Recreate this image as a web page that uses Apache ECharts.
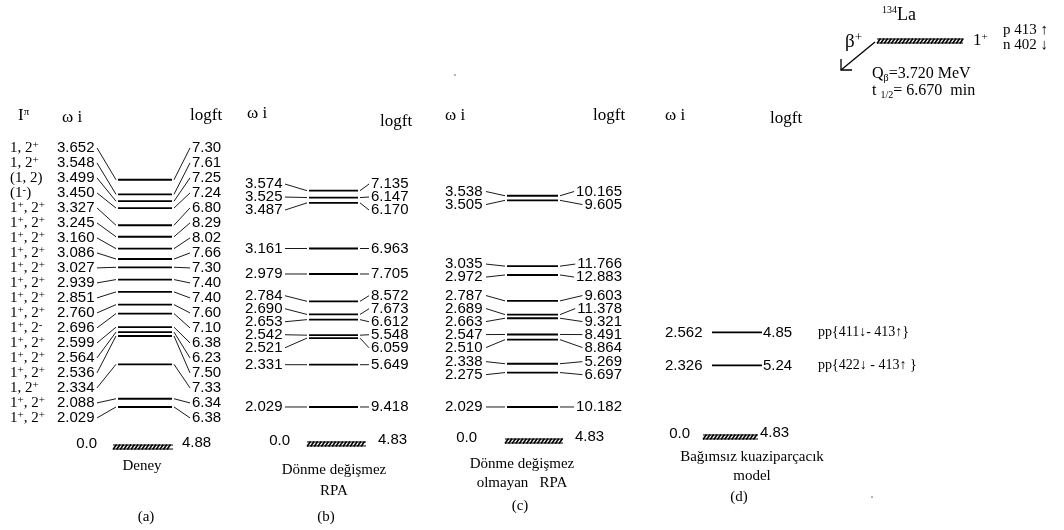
<!DOCTYPE html>
<html><head><meta charset="utf-8">
<script src="https://cdn.jsdelivr.net/npm/echarts@6/dist/echarts.min.js"></script>
<style>html,body{margin:0;padding:0;background:#fff}#c{width:1064px;height:530px}</style>
</head><body><div id="c"></div>
<script>
// ---------------- DATA ----------------
// (a) Deney (experiment)
const expEnergies = [3.652,3.548,3.499,3.450,3.327,3.245,3.160,3.086,3.027,2.939,2.851,2.760,2.696,2.599,2.564,2.536,2.334,2.088,2.029];
const expSpins = ['1, 2^+','1, 2^+','(1, 2)','(1^-)','1^+, 2^+','1^+, 2^+','1^+, 2^+','1^+, 2^+','1^+, 2^+','1^+, 2^+','1^+, 2^+','1^+, 2^+','1^+, 2^-','1^+, 2^+','1^+, 2^+','1^+, 2^+','1, 2^+','1^+, 2^+','1^+, 2^+'];
const expLogft = [7.30,7.61,7.25,7.24,6.80,8.29,8.02,7.66,7.30,7.40,7.40,7.60,7.10,6.38,6.23,7.50,7.33,6.34,6.38];
// (b) Dönme değişmez RPA
const rpaEnergies = [3.574,3.525,3.487,3.161,2.979,2.784,2.690,2.653,2.542,2.521,2.331,2.029];
const rpaLogft = [7.135,6.147,6.170,6.963,7.705,8.572,7.673,6.612,5.548,6.059,5.649,9.418];
// (c) Dönme değişmez olmayan RPA
const nrpaEnergies = [3.538,3.505,3.035,2.972,2.787,2.689,2.663,2.547,2.510,2.338,2.275,2.029];
const nrpaLogft = [10.165,9.605,11.766,12.883,9.603,11.378,9.321,8.491,8.864,5.269,6.697,10.182];
// (d) Bağımsız kuaziparçacık model
const qpEnergies = [2.562,2.326];
const qpLogft = [4.85,5.24];
const qpConfigs = ['pp{411\u2193- 413\u2191}','pp{422\u2193 - 413\u2191 }'];
// ground states
const groundEnergy = [0.0,0.0,0.0,0.0];
const groundLogft = [4.88,4.83,4.83,4.83];
const panelNames = [['Deney'],['Dönme değişmez','RPA'],['Dönme değişmez','olmayan   RPA'],['Bağımsız kuaziparçacık','model']];
const panelTags = ['(a)','(b)','(c)','(d)'];

// ---------------- LAYOUT ----------------
const W = 1064, H = 530;
const yMax = 4.9361, yMin = 1.1504;           // energy axis range (MeV)
const pxPerE = H / (yMax - yMin);
const NUM = '15px "Liberation Sans", Arial, sans-serif';
const SERIF = '"Liberation Serif", "Times New Roman", serif';
const measCtx = document.createElement('canvas').getContext('2d');
function textW(t, font) { measCtx.font = font; return measCtx.measureText(t).width; }

const panels = [
  {E: expEnergies, F: expLogft, dec: 2, spins: expSpins, level:[118,172], lLab:57, lLead:[97,116], rLead:[174,190], rLab:192, gap:15,
   g:{E:1.743, hatch:[113,173], zeroR:97, valX:182}},
  {E: rpaEnergies, F: rpaLogft, dec: 3, level:[309,358], lLab:245, lLead:[285,307], rLead:[360,369], rLab:371, gap:13,
   g:{E:1.765, hatch:[307,366], zeroR:290, valX:378}},
  {E: nrpaEnergies, F: nrpaLogft, dec: 3, level:[507,558], lLab:445, lLead:[486,505], rLead:[560,568], rLabRight:622, gap:13,
   g:{E:1.786, hatch:[505,563], zeroR:477, valX:575}},
  {E: qpEnergies, F: qpLogft, dec: 2, configs: qpConfigs, level:[712,762], lLab:665, rLab:763, cfgX:818, gap:13,
   g:{E:1.815, hatch:[703,758], zeroR:690, valX:760}}
];

// spread labels (ordered) with minimum pixel gap, least squares (PAVA)
function spread(energies, gapPx) {
  const ys = energies.map(e => (yMax - e) * pxPerE);
  const z = ys.map((y, i) => y - i * gapPx);
  const blocks = [];
  z.forEach(v => {
    blocks.push({s: v, n: 1});
    while (blocks.length > 1) {
      const a = blocks[blocks.length - 2], b = blocks[blocks.length - 1];
      if (a.s / a.n > b.s / b.n) { blocks.pop(); a.s += b.s; a.n += b.n; } else break;
    }
  });
  const fit = [];
  blocks.forEach(b => { for (let k = 0; k < b.n; k++) fit.push(b.s / b.n); });
  return fit.map((f, i) => yMax - (f + i * gapPx) / pxPerE);
}

function supRich(s) { return s.replace(/\^([+\-])/g, '{s|$1}'); }
const richSup = {
  s: {fontSize: 11, fontFamily: SERIF, verticalAlign: 'top', lineHeight: 10}
};

function hatch(x0, x1, y) {
  const els = [{type: 'line', shape: {x1: x0, y1: y - 2, x2: x1, y2: y - 2}, style: {stroke: '#000', lineWidth: 1}},
               {type: 'line', shape: {x1: x0, y1: y + 2, x2: x1, y2: y + 2}, style: {stroke: '#000', lineWidth: 1}}];
  for (let x = x0; x < x1 - 3; x += 3.6) {
    els.push({type: 'line', shape: {x1: x, y1: y + 2.5, x2: x + 3.5, y2: y - 2.5}, style: {stroke: '#000', lineWidth: 1.6}});
  }
  return els;
}

function txt(x, y, text, font, align, extra) {
  return {type: 'text', style: Object.assign({x: x, y: y, text: text, font: font, fill: '#000', align: align || 'left', verticalAlign: 'middle'}, extra || {})};
}

const series = panels.map((P, pi) => {
  const labE = P.lLead ? spread(P.E, P.gap) : P.E.slice();
  return {
    type: 'custom', coordinateSystem: 'cartesian2d', silent: true,
    data: P.E.map((e, i) => [e, labE[i]]),
    renderItem: function (params, api) {
      const i = params.dataIndex;
      const E = api.value(0), LE = api.value(1);
      const a = api.coord([P.level[0], E]), b = api.coord([P.level[1], E]);
      const ly = api.coord([0, LE])[1];
      const ch = [{type: 'line', shape: {x1: a[0], y1: a[1], x2: b[0], y2: b[1]}, style: {stroke: '#000', lineWidth: 1.8}}];
      ch.push(txt(P.lLab, ly, E.toFixed(3), NUM, 'left'));
      const rt = P.F[i].toFixed(P.dec);
      let rEnd = P.rLead ? P.rLead[1] : 0;
      if (P.rLabRight) {
        ch.push(txt(P.rLabRight, ly, rt, NUM, 'right'));
        rEnd = Math.max(P.rLead[0] + 4, P.rLabRight - textW(rt, NUM) - 2);
      } else {
        ch.push(txt(P.rLab, ly, rt, NUM, 'left'));
      }
      if (P.lLead) {
        ch.push({type: 'line', shape: {x1: P.lLead[0], y1: ly, x2: P.lLead[1], y2: a[1]}, style: {stroke: '#000', lineWidth: 0.9}});
        ch.push({type: 'line', shape: {x1: P.rLead[0], y1: b[1], x2: rEnd, y2: ly}, style: {stroke: '#000', lineWidth: 0.9}});
      }
      if (P.spins) {
        ch.push(txt(10, ly, supRich(P.spins[i]), '15px ' + SERIF, 'left', {rich: richSup, lineHeight: 16}));
      }
      if (P.configs) {
        ch.push(txt(P.cfgX, ly, P.configs[i], '14px ' + SERIF, 'left'));
      }
      return {type: 'group', children: ch};
    }
  };
});

// ground states
series.push({
  type: 'custom', coordinateSystem: 'cartesian2d', silent: true,
  data: groundLogft.map((v, i) => [groundEnergy[i], v]),
  renderItem: function (params, api) {
    const P = panels[params.dataIndex];
    const y = api.coord([0, P.g.E])[1];
    const ch = hatch(P.g.hatch[0], P.g.hatch[1], y);
    ch.push(txt(P.g.zeroR, y - 3, api.value(0).toFixed(1), NUM, 'right'));
    ch.push(txt(P.g.valX, y - 4, api.value(1).toFixed(2), NUM, 'left'));
    return {type: 'group', children: ch};
  }
});

// static annotations
const S15 = '15px ' + SERIF, S17 = '17px ' + SERIF;
const graphics = [];
function g(x, y, text, font, align, extra) { graphics.push(txt(x, y, text, font, align, extra)); }
// column headers
g(18, 116, 'I{s|π}', S17, 'left', {rich: richSup, lineHeight: 18});
g(62, 118, 'ω i', S17, 'left');
g(190, 116, 'logft', S17, 'left');
g(247, 114, 'ω i', S17, 'left');
g(380, 122, 'logft', S17, 'left');
g(445, 116, 'ω i', S17, 'left');
g(593, 116, 'logft', S17, 'left');
g(665, 116, 'ω i', S17, 'left');
g(770, 119, 'logft', S17, 'left');
// panel names
const nameCenters = [[142, [466]], [334, [470, 491]], [522, [464, 483]], [752, [457, 476]]];
const tagPos = [[146, 517], [326, 517], [520, 506], [739, 497]];
panelNames.forEach((arr, i) => {
  arr.forEach((t, k) => g(nameCenters[i][0], nameCenters[i][1][k], t, S15, 'center'));
  g(tagPos[i][0], tagPos[i][1], panelTags[i], S15, 'center');
});
// parent nucleus block
g(882, 15, '{s|134}La', '18px ' + SERIF, 'left', {rich: {s: {fontSize: 10, fontFamily: SERIF, verticalAlign: 'top', lineHeight: 10}}, lineHeight: 20});
hatch(877, 963, 41).forEach(e => graphics.push(e));
g(973, 41, '1{s|+}', S17, 'left', {rich: richSup, lineHeight: 18});
g(1003, 30, 'p 413 \u2191', '15px ' + SERIF, 'left');
g(1003, 45, 'n 402 \u2193', '15px ' + SERIF, 'left');
g(845, 42, 'β{s|+}', '19px ' + SERIF, 'left', {rich: {s: {fontSize: 13, fontFamily: SERIF, verticalAlign: 'top', lineHeight: 12}}, lineHeight: 22});
graphics.push({type: 'line', shape: {x1: 875, y1: 42, x2: 841, y2: 70}, style: {stroke: '#000', lineWidth: 1.3}});
graphics.push({type: 'polyline', shape: {points: [[841, 59], [841, 70], [852, 70]]}, style: {stroke: '#000', lineWidth: 1.3, fill: null}});
g(872, 74, 'Q{b|β}=3.720 MeV', '16px ' + SERIF, 'left', {rich: {b: {fontSize: 10, fontFamily: SERIF, verticalAlign: 'bottom', lineHeight: 10}}, lineHeight: 18});
g(872, 91, 't {b|1/2}= 6.670  min', '16px ' + SERIF, 'left', {rich: {b: {fontSize: 10, fontFamily: SERIF, verticalAlign: 'bottom', lineHeight: 10}}, lineHeight: 18});
// stray dots of the original figure
graphics.push({type: 'circle', shape: {cx: 455, cy: 75, r: 0.8}, style: {fill: '#555'}});
graphics.push({type: 'circle', shape: {cx: 872, cy: 497, r: 0.8}, style: {fill: '#555'}});

const chart = echarts.init(document.getElementById('c'), null, {renderer: 'canvas'});
chart.setOption({
  backgroundColor: '#fff',
  animation: false,
  grid: {left: 0, right: 0, top: 0, bottom: 0},
  xAxis: {type: 'value', min: 0, max: W, show: false},
  yAxis: {type: 'value', min: yMin, max: yMax, show: false},
  series: series,
  graphic: {elements: graphics}
});
</script>
</body></html>
